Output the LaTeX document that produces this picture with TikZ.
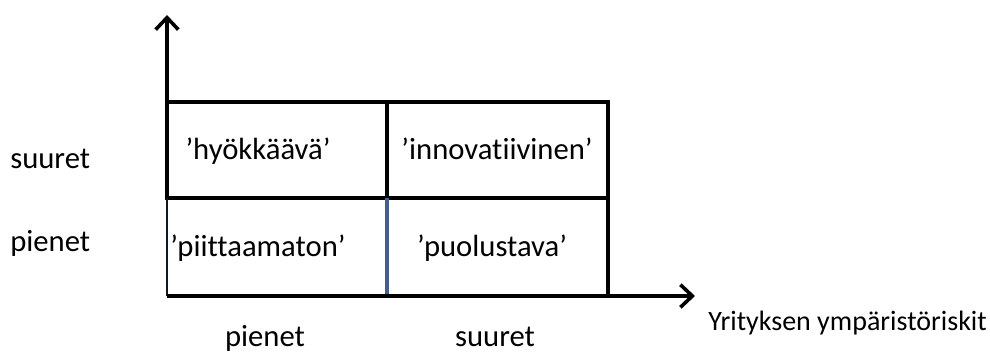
\documentclass[tikz,border=0pt]{standalone}
\usepackage{fontspec}
\setmainfont[Ligatures=NoCommon]{Carlito}
\usetikzlibrary{arrows.meta}
\definecolor{slate}{HTML}{41608F}
\tikzstyle{celltext} = [anchor=base, inner sep=0pt, font=\fontsize{23}{28}\selectfont]
\tikzstyle{axistext} = [anchor=base west, inner sep=0pt, font=\fontsize{21}{25}\selectfont]
\tikzstyle{gridline} = [line width=2.7pt, black]
\tikzstyle{blueline} = [line width=2.7pt, slate]
\tikzstyle{axis} = [line width=2.7pt, -{Straight Barb[length=9pt, width=17pt, line width=2.7pt]}]

\begin{document}
\begin{tikzpicture}[x=0.75pt, y=-0.75pt]
\useasboundingbox (0,0) rectangle (990,360);

% corners of the grid
\coordinate (o) at (167,296);
\coordinate (ml) at (167,198);
\coordinate (tl) at (167,102);
\coordinate (tm) at (387,102);
\coordinate (mm) at (387,198);
\coordinate (bm) at (387,296);
\coordinate (tr) at (608,102);
\coordinate (mr) at (608,198);
\coordinate (br) at (608,296);
\coordinate (ytip) at (167,15);
\coordinate (xtip) at (695,296);

\draw [gridline] (tl) -- (tr) -- (mr) -- (ml) -- cycle;
\draw [gridline] (tm) -- (mm);
\draw [gridline] (mr) -- (br);
\draw [blueline] (mm) -- (bm);
\draw [blueline, line width=2pt, black!75!slate] (ml) -- (o);

\draw [axis] (ml) -- (ytip);
\draw [axis] (o) -- (xtip);

\node (hyok) [celltext] at (258,160) {’hyökkäävä’};
\node (inno) [celltext] at (497,160) {’innovatiivinen’};
\node (piit) [celltext] at (258,256) {’piittaamaton’};
\node (puol) [celltext] at (492,256) {’puolustava’};

\node (ysuuret) [celltext, anchor=base west] at (10,168) {suuret};
\node (ypienet) [celltext, anchor=base west] at (10,251) {pienet};
\node (xpienet) [celltext] at (265,346) {pienet};
\node (xsuuret) [celltext] at (495,346) {suuret};
\node (xlabel) [axistext] at (708,330) {Yrityksen ympäristöriskit};

\end{tikzpicture}
\end{document}
